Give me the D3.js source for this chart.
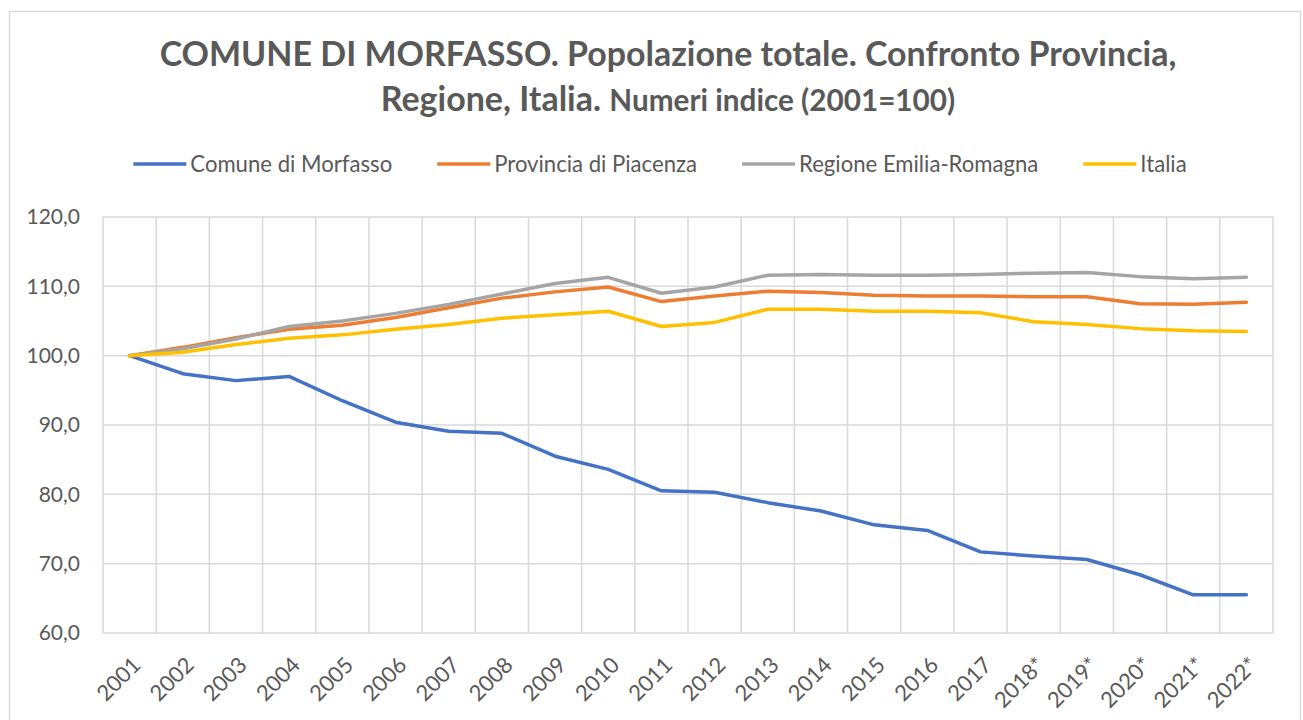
<!DOCTYPE html>
<html lang="it">
<head>
<meta charset="UTF-8">
<title>Morfasso - numeri indice</title>
<script src="https://cdnjs.cloudflare.com/ajax/libs/d3/7.8.5/d3.min.js"></script>
<style>
    body { margin: 0; background: #ffffff; }
    svg { display: block; font-family: Lato, "Open Sans", sans-serif; }
    .grid line { stroke: #d9d9d9; stroke-width: 1.5; }
    .tick-label { fill: #595959; }
    .series { fill: none; stroke-width: 3.5; stroke-linejoin: round; stroke-linecap: round; }
</style>
</head>
<body>
<svg id="chart" width="1303" height="720"></svg>
<script>
// --- Data ---
const years = ["2001", "2002", "2003", "2004", "2005", "2006", "2007", "2008", "2009", "2010", "2011",
               "2012", "2013", "2014", "2015", "2016", "2017", "2018*", "2019*", "2020*", "2021*", "2022*"];
const seriesNames = ["Comune di Morfasso", "Provincia di Piacenza", "Regione Emilia-Romagna", "Italia"];
const seriesColors = ["#4472C4", "#ED7D31", "#A5A5A5", "#FFC000"];
const morfasso = [100, 97.4, 96.4, 97.0, 93.5, 90.4, 89.1, 88.8, 85.5, 83.6, 80.5,
                  80.3, 78.8, 77.6, 75.6, 74.8, 71.7, 71.1, 70.6, 68.4, 65.5, 65.5];
const piacenza = [100, 101.2, 102.6, 103.8, 104.4, 105.5, 106.9, 108.3, 109.2, 109.9, 107.8,
                  108.6, 109.3, 109.1, 108.7, 108.6, 108.6, 108.5, 108.5, 107.5, 107.4, 107.7];
const emiliaRomagna = [100, 101.0, 102.4, 104.2, 105.0, 106.1, 107.4, 108.9, 110.4, 111.3, 109.0,
                       109.9, 111.6, 111.7, 111.6, 111.6, 111.7, 111.9, 112.0, 111.4, 111.1, 111.3];
const italia = [100, 100.5, 101.6, 102.5, 103.0, 103.8, 104.5, 105.4, 105.9, 106.4, 104.2,
                104.8, 106.7, 106.7, 106.4, 106.4, 106.2, 104.9, 104.5, 103.9, 103.6, 103.5];
const yTicks = [60, 70, 80, 90, 100, 110, 120];

const seriesValues = [morfasso, piacenza, emiliaRomagna, italia];

// --- Setup ---
const svg = d3.select("#chart");
const textColor = "#595959";
const plot = { left: 103, right: 1273, top: 217, bottom: 633 };

// chart border
svg.append("rect")
    .attr("x", 9.5).attr("y", 11.5)
    .attr("width", 1291).attr("height", 720)
    .attr("fill", "#fff")
    .attr("stroke", "#d9d9d9")
    .attr("stroke-width", 1.5);

const x = d3.scaleBand().domain(years).range([plot.left, plot.right]);
const y = d3.scaleLinear().domain([60, 120]).range([plot.bottom, plot.top]);
const itFormat = d3.formatLocale({ decimal: ",", thousands: ".", grouping: [3], currency: ["€", ""] }).format(".1f");

// fit a text (or tspan) element to a target width by changing its font size
function fitWidth(sel, size, target) {
    sel.style("font-size", size + "px");
    const w = sel.node().getComputedTextLength();
    const fitted = size * target / w;
    sel.style("font-size", fitted + "px");
    return fitted;
}

// --- Grid ---
const grid = svg.append("g").attr("class", "grid");
grid.selectAll("line.h")
    .data(yTicks)
    .join("line")
    .attr("class", "h")
    .attr("x1", plot.left).attr("x2", plot.right)
    .attr("y1", d => y(d)).attr("y2", d => y(d));
const vEdges = years.map(d => x(d)).concat([plot.right]);
grid.selectAll("line.v")
    .data(vEdges)
    .join("line")
    .attr("class", "v")
    .attr("x1", d => d).attr("x2", d => d)
    .attr("y1", plot.top).attr("y2", plot.bottom);

// --- Axes labels ---
svg.append("g")
    .selectAll("text")
    .data(yTicks)
    .join("text")
    .attr("class", "tick-label")
    .attr("x", 80)
    .attr("y", d => y(d))
    .attr("dy", "0.35em")
    .attr("text-anchor", "end")
    .style("font-size", "21px")
    .text(d => itFormat(d));

svg.append("g")
    .selectAll("text")
    .data(years)
    .join("text")
    .attr("class", "tick-label")
    .attr("text-anchor", "end")
    .attr("transform", d => `translate(${x(d) + x.bandwidth() / 2 + 7},${plot.bottom + 28}) rotate(-45)`)
    .attr("dy", "0.35em")
    .style("font-size", "22px")
    .text(d => d);

// --- Lines ---
const line = d3.line()
    .x((d, i) => x(years[i]) + x.bandwidth() / 2)
    .y(d => y(d));

svg.append("g")
    .selectAll("path")
    .data(seriesValues)
    .join("path")
    .attr("class", "series")
    .attr("stroke", (d, i) => seriesColors[i])
    .attr("d", line);

// --- Title ---
const titleX = 668;
const t1 = svg.append("text")
    .attr("x", titleX).attr("y", 66)
    .attr("text-anchor", "middle")
    .attr("fill", textColor)
    .style("font-weight", "bold")
    .text("COMUNE DI MORFASSO. Popolazione totale. Confronto Provincia,");
const fs1 = fitWidth(t1, 34, 1017);

const t2 = svg.append("text")
    .attr("x", titleX).attr("y", 111)
    .attr("text-anchor", "middle")
    .attr("fill", textColor)
    .style("font-weight", "bold");
const t2a = t2.append("tspan").style("font-size", fs1 + "px").text("Regione, Italia.\u00a0");
const t2b = t2.append("tspan").text("Numeri indice (2001=100)");
fitWidth(t2b, 26, 346);

// --- Legend ---
const legend = svg.append("g");
const legendY = 164;
const items = legend.selectAll("g")
    .data(seriesNames)
    .join("g");
items.append("line")
    .attr("x1", 0).attr("x2", 53)
    .attr("y1", 0).attr("y2", 0)
    .attr("stroke", (d, i) => seriesColors[i])
    .attr("stroke-width", 3.5);
const labels = items.append("text")
    .attr("x", 57)
    .attr("dy", "0.35em")
    .attr("fill", textColor)
    .text(d => d);
const legendFs = fitWidth(d3.select(labels.nodes()[0]), 20, 202);
labels.style("font-size", legendFs + "px");

let cursor = 0;
const offsets = [];
labels.each(function () {
    offsets.push(cursor);
    cursor += 57 + this.getComputedTextLength() + 45;
});
const legendWidth = cursor - 45;
const legendStart = 660 - legendWidth / 2;
items.attr("transform", (d, i) => `translate(${legendStart + offsets[i]},${legendY})`);
</script>
</body>
</html>
